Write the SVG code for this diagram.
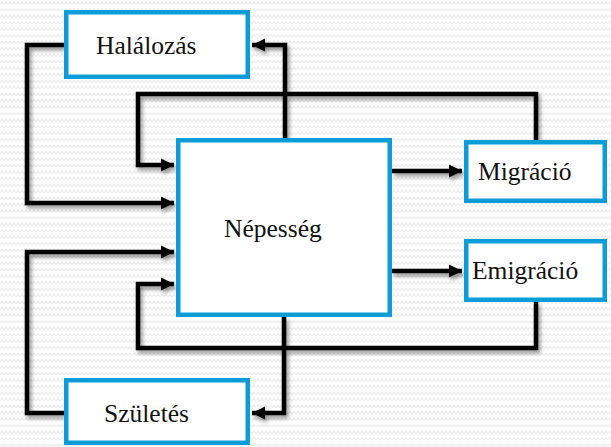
<svg xmlns="http://www.w3.org/2000/svg" width="611" height="447" viewBox="0 0 611 447">
  <defs>
    <pattern id="waves" width="8" height="6.5" patternUnits="userSpaceOnUse">
      <path d="M0 4.5 L2 2 L4 4.5 L6 2 L8 4.5" fill="none" stroke="#ebebeb" stroke-width="1"/>
    </pattern>
    <filter id="shadow" x="-20%" y="-20%" width="140%" height="140%">
      <feGaussianBlur in="SourceAlpha" stdDeviation="2"/>
      <feOffset dx="2" dy="3" result="blur"/>
      <feComponentTransfer><feFuncA type="linear" slope="0.45"/></feComponentTransfer>
      <feMerge><feMergeNode/><feMergeNode in="SourceGraphic"/></feMerge>
    </filter>
    <marker id="arrow" markerWidth="14" markerHeight="14" refX="13" refY="7" orient="auto" markerUnits="userSpaceOnUse">
      <path d="M0 0.5 L13 7 L0 13.5 Z" fill="#000"/>
    </marker>
  </defs>
  <style>
    .box { fill: #fff; stroke: #0c9cd8; stroke-width: 4.5; }
    .link { fill: none; stroke: #000; stroke-width: 4.5; stroke-linejoin: miter; }
    .label { font-family: "Liberation Serif", "Times New Roman", serif; font-size: 25.5px; fill: #111; }
  </style>

  <rect width="611" height="447" fill="#fff"/>
  <rect width="611" height="447" fill="url(#waves)"/>

  <g id="connectors" filter="url(#shadow)">
    <!-- Halálozás -> Népesség -->
    <path class="link" d="M64 45 H27 V203 H174" marker-end="url(#arrow)"/>
    <!-- Népesség -> Halálozás -->
    <path class="link" d="M285 138 V45 H252" marker-end="url(#arrow)"/>
    <!-- Migráció -> Népesség -->
    <path class="link" d="M536 140 V94 H138 V165 H174" marker-end="url(#arrow)"/>
    <!-- Népesség -> Migráció -->
    <path class="link" d="M392 171 H462" marker-end="url(#arrow)"/>
    <!-- Népesség -> Emigráció -->
    <path class="link" d="M392 271 H462" marker-end="url(#arrow)"/>
    <!-- Emigráció -> Népesség -->
    <path class="link" d="M536 302 V348 H138 V284 H174" marker-end="url(#arrow)"/>
    <!-- Születés -> Népesség -->
    <path class="link" d="M64 413 H27 V252 H174" marker-end="url(#arrow)"/>
    <!-- Népesség -> Születés -->
    <path class="link" d="M284 317 V413 H252" marker-end="url(#arrow)"/>
  </g>

  <g id="halalozas">
    <rect class="box" x="66.25" y="12.25" width="181.5" height="64.5"/>
    <text class="label" x="96" y="54">Halálozás</text>
  </g>
  <g id="nepesseg">
    <rect class="box" x="178.25" y="140.25" width="211.5" height="174.5"/>
    <text class="label" x="224" y="237">Népesség</text>
  </g>
  <g id="migracio">
    <rect class="box" x="466.25" y="142.25" width="138.5" height="58.5"/>
    <text class="label" x="478" y="180">Migráció</text>
  </g>
  <g id="emigracio">
    <rect class="box" x="466.25" y="241.25" width="138.5" height="58.5"/>
    <text class="label" x="472" y="279">Emigráció</text>
  </g>
  <g id="szuletes">
    <rect class="box" x="66.25" y="380.25" width="181.5" height="62.5"/>
    <text class="label" x="104" y="422">Születés</text>
  </g>
</svg>
